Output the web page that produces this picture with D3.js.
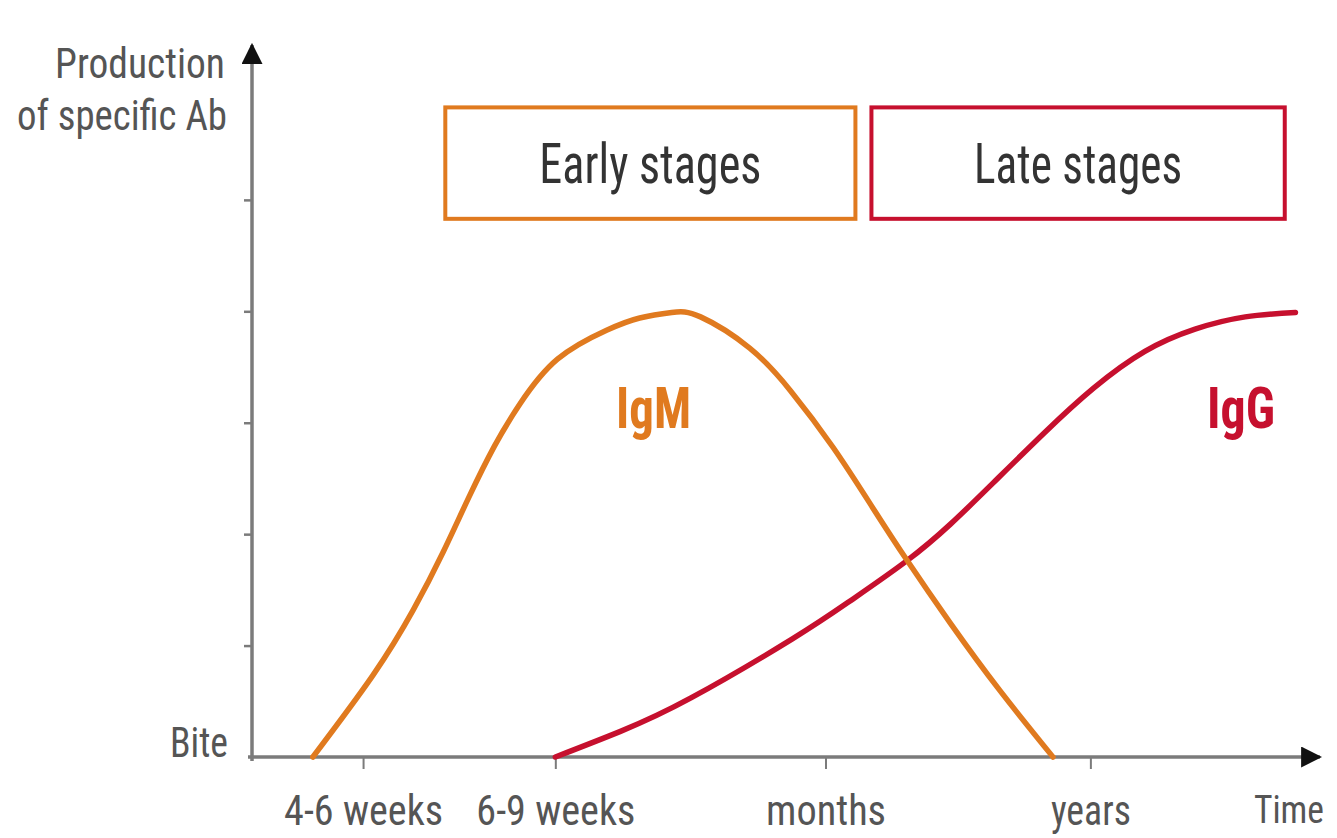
<!DOCTYPE html>
<html><head><meta charset="utf-8">
<script src="https://cdn.jsdelivr.net/npm/d3@7"></script>
<style>html,body{margin:0;padding:0;background:#fff;}svg{display:block;}</style>
</head><body>
<svg id="chart" width="1337" height="838"></svg>
<script>
// ---- data (abstract time units 0..100, production units 0..6.39) ----
const igmX = [5.7, 11.3, 15.1, 17.9, 20.3, 22.7, 25.1, 28.6, 33.2, 36.3, 39.3, 42.0, 46.6, 50.4, 54.4, 58.1, 61.3, 65.4, 70.0, 75.0];
const igmY = [0, 0.73, 1.32, 1.84, 2.33, 2.79, 3.17, 3.57, 3.83, 3.94, 3.99, 3.95, 3.67, 3.29, 2.78, 2.24, 1.77, 1.20, 0.60, 0];
const iggX = [28.4, 34.5, 41.1, 50.6, 56.0, 61.3, 65.4, 69.4, 74.2, 78.8, 83.6, 88.3, 93.0, 97.7];
const iggY = [0, 0.23, 0.53, 1.06, 1.40, 1.76, 2.09, 2.46, 2.91, 3.31, 3.64, 3.84, 3.95, 3.99];
const xTickValues = [10.4, 28.4, 53.7, 78.5];
const xTickLabels = ["4-6 weeks", "6-9 weeks", "months", "years"];
const yTickValues = [1, 2, 3, 4, 5];
const stageNames = ["Early stages", "Late stages"];
const stageStart = [18.1, 58.0];
const stageEnd = [56.5, 96.7];
const stageLow = [4.83, 4.83];
const stageHigh = [5.83, 5.83];
const seriesNames = ["IgM", "IgG"];
const seriesLabelX = [37.6, 92.6];
const seriesLabelY = [2.95, 2.95];

const ORANGE = "#e07a1f", RED = "#c6102e", AXIS = "#7b7b7b", TXT = "#555";
const FONT = "'Roboto Condensed','Liberation Sans Narrow','Arial Narrow','Liberation Sans',sans-serif";

const svg = d3.select("#chart");
const x = d3.scaleLinear().domain([0, 100]).range([252, 1320]);
const y = d3.scaleLinear().domain([0, 6.39]).range([757, 45]);

// condense text to a given width (keeps text as real text)
function fit(sel, w) { sel.attr("textLength", w).attr("lengthAdjust", "spacingAndGlyphs"); return sel; }

const defs = svg.append("defs");
defs.append("marker").attr("id","arr").attr("viewBox","0 0 10 10").attr("refX",9).attr("refY",5)
  .attr("markerWidth",6).attr("markerHeight",6).attr("markerUnits","strokeWidth").attr("orient","auto")
  .append("path").attr("d","M0,0L10,5L0,10Z").attr("fill","#111");

// x axis ticks + labels
const tickWidths = [159, 159, 120, 80];
const xAxis = d3.axisBottom(x).tickValues(xTickValues).tickFormat((d,i)=>xTickLabels[i]).tickSize(12).tickSizeOuter(0).tickPadding(0);
const gx = svg.append("g").attr("transform",`translate(0,${y(0)})`).call(xAxis);
gx.select(".domain").remove();
gx.selectAll(".tick line").attr("stroke",AXIS).attr("stroke-width",2);
gx.selectAll(".tick text").attr("font-family",FONT).attr("font-size",43).attr("fill",TXT)
  .attr("dy",null).attr("y",68).each(function(d,i){ fit(d3.select(this), tickWidths[i]); });

// y axis ticks
const yAxis = d3.axisLeft(y).tickValues(yTickValues).tickFormat("").tickSize(8).tickSizeOuter(0);
const gy = svg.append("g").attr("transform",`translate(${x(0)},0)`).call(yAxis);
gy.select(".domain").remove();
gy.selectAll(".tick line").attr("stroke",AXIS).attr("stroke-width",2.5);

svg.append("line").attr("x1",x(0)-4).attr("x2",x(100)).attr("y1",y(0)).attr("y2",y(0))
  .attr("stroke",AXIS).attr("stroke-width",3.5).attr("marker-end","url(#arr)");
svg.append("line").attr("x1",x(0)).attr("x2",x(0)).attr("y1",y(0)+4).attr("y2",y(6.39))
  .attr("stroke",AXIS).attr("stroke-width",3.5).attr("marker-end","url(#arr)");

// axis titles
fit(svg.append("text").attr("x",225).attr("y",78).attr("text-anchor","end").attr("font-family",FONT)
  .attr("font-size",43).attr("fill",TXT).text("Production"), 170);
fit(svg.append("text").attr("x",227).attr("y",130).attr("text-anchor","end").attr("font-family",FONT)
  .attr("font-size",43).attr("fill",TXT).text("of specific Ab"), 210);
fit(svg.append("text").attr("x",228).attr("y",y(0)).attr("text-anchor","end").attr("font-family",FONT)
  .attr("font-size",42).attr("fill",TXT).text("Bite"), 58);
fit(svg.append("text").attr("x",1254).attr("y",y(0)+66).attr("text-anchor","start").attr("font-family",FONT)
  .attr("font-size",38).attr("fill",TXT).text("Time"), 70);

// stage boxes
const stageColors = [ORANGE, RED];
const stageTextW = [222, 208];
stageNames.forEach((name,i)=>{
  svg.append("rect").attr("x",x(stageStart[i])).attr("y",y(stageHigh[i]))
    .attr("width",x(stageEnd[i])-x(stageStart[i])).attr("height",y(stageLow[i])-y(stageHigh[i]))
    .attr("fill","none").attr("stroke",stageColors[i]).attr("stroke-width",4);
  fit(svg.append("text").attr("x",(x(stageStart[i])+x(stageEnd[i]))/2).attr("y",183)
    .attr("text-anchor","middle").attr("font-family",FONT).attr("font-size",55).attr("fill","#333").text(name), stageTextW[i]);
});

// curves
const line = d3.line().x(d=>x(d[0])).y(d=>y(d[1])).curve(d3.curveNatural);
const igm = igmX.map((v,i)=>[v, igmY[i]]);
const igg = iggX.map((v,i)=>[v, iggY[i]]);
svg.append("path").datum(igg).attr("d",line).attr("fill","none").attr("stroke",RED).attr("stroke-width",5.5).attr("stroke-linecap","round");
svg.append("path").datum(igm).attr("d",line).attr("fill","none").attr("stroke",ORANGE).attr("stroke-width",5.5).attr("stroke-linecap","round");

// series labels
const seriesW = [75, 68];
[ORANGE, RED].forEach((c,i)=>{
  fit(svg.append("text").attr("x",x(seriesLabelX[i])).attr("y",y(seriesLabelY[i]))
    .attr("text-anchor","middle").attr("font-family",FONT).attr("font-weight","bold")
    .attr("font-size",57).attr("fill",c).text(seriesNames[i]), seriesW[i]);
});
</script>
</body></html>
